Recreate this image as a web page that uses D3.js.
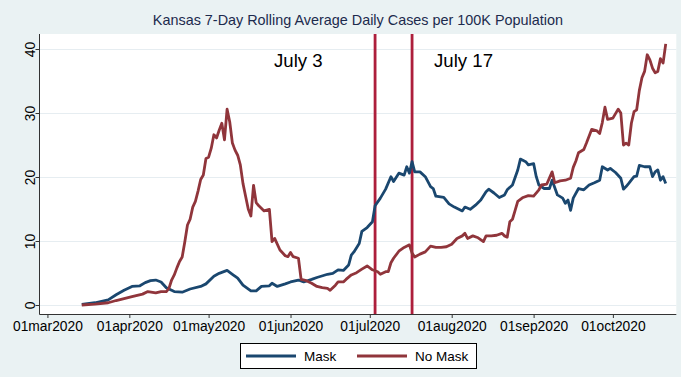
<!DOCTYPE html>
<html>
<head>
<meta charset="utf-8">
<script src="https://cdn.jsdelivr.net/npm/d3@7"></script>
<style>
  body { margin: 0; background: #eaf2f3; }
  svg { display: block; font-family: "Liberation Sans", Arial, sans-serif; }
</style>
</head>
<body>
<div id="chart"></div>
<script>
// 7-day rolling average daily cases per 100K
const maskDates = [
  "2020-03-14","2020-03-19","2020-03-24","2020-03-27","2020-03-30","2020-04-02","2020-04-05","2020-04-07",
  "2020-04-09","2020-04-11","2020-04-13","2020-04-15","2020-04-17","2020-04-18","2020-04-21","2020-04-24",
  "2020-04-28","2020-04-30","2020-05-03","2020-05-05","2020-05-08","2020-05-10","2020-05-12","2020-05-14",
  "2020-05-17","2020-05-19","2020-05-21","2020-05-24","2020-05-25","2020-05-27","2020-05-30","2020-06-01",
  "2020-06-04","2020-06-06","2020-06-09","2020-06-11","2020-06-15","2020-06-17","2020-06-19","2020-06-21",
  "2020-06-23","2020-06-24","2020-06-25","2020-06-27","2020-06-28","2020-06-30","2020-07-02","2020-07-03",
  "2020-07-05","2020-07-07","2020-07-09","2020-07-10","2020-07-12","2020-07-14","2020-07-15","2020-07-16",
  "2020-07-17","2020-07-18","2020-07-20","2020-07-22","2020-07-24","2020-07-25","2020-07-26","2020-07-29",
  "2020-07-31","2020-08-02","2020-08-05","2020-08-06","2020-08-08","2020-08-10","2020-08-12","2020-08-14",
  "2020-08-15","2020-08-17","2020-08-19","2020-08-21","2020-08-22","2020-08-24","2020-08-26","2020-08-27",
  "2020-08-29","2020-08-30","2020-09-01","2020-09-02","2020-09-03","2020-09-05","2020-09-07","2020-09-08",
  "2020-09-10","2020-09-12","2020-09-13","2020-09-14","2020-09-15","2020-09-16","2020-09-18","2020-09-20",
  "2020-09-22","2020-09-24","2020-09-26","2020-09-27","2020-09-29","2020-09-30","2020-10-02","2020-10-04",
  "2020-10-05","2020-10-06","2020-10-07","2020-10-09","2020-10-10","2020-10-11","2020-10-13","2020-10-15",
  "2020-10-16","2020-10-17","2020-10-18","2020-10-19","2020-10-20","2020-10-21"
];
const maskCases = [
  0.1, 0.35, 0.8, 1.6, 2.3, 2.9, 3.0, 3.5,
  3.8, 3.9, 3.6, 2.7, 2.3, 2.1, 2.0, 2.5,
  2.9, 3.3, 4.5, 4.95, 5.4, 4.8, 4.2, 3.1,
  2.2, 2.2, 2.9, 3.0, 3.4, 2.9, 3.3, 3.6,
  3.9, 3.6, 4.0, 4.3, 4.8, 4.95, 5.5, 5.4,
  6.25, 7.8, 8.3, 9.6, 11.5, 12.1, 13.0, 15.5,
  16.7, 18.1, 20.05, 19.3, 20.6, 20.3, 21.6, 20.6,
  22.4, 20.8, 20.8, 20.05, 18.5, 18.2, 17.0, 16.8,
  15.8, 15.3, 14.7, 15.3, 14.95, 15.6, 16.4, 17.7,
  18.1, 17.5, 16.8, 17.2, 18.0, 18.75, 21.1, 22.8,
  22.4, 21.9, 22.1, 20.05, 18.75, 18.2, 18.2, 19.5,
  17.2, 16.7, 15.9, 16.4, 14.8, 16.7, 18.2, 18.0,
  18.75, 19.1, 19.5, 21.6, 21.1, 21.35, 20.7, 19.8,
  18.1, 18.5, 19.0, 20.05, 20.15, 21.8, 21.6, 21.6,
  20.05, 20.8, 21.1, 19.5, 20.05, 19.0
];

const noMaskDates = [
  "2020-03-14","2020-03-19","2020-03-24","2020-03-27","2020-03-30","2020-04-02","2020-04-06","2020-04-08",
  "2020-04-11","2020-04-13","2020-04-15","2020-04-16","2020-04-17","2020-04-18","2020-04-19","2020-04-20",
  "2020-04-21","2020-04-22","2020-04-23","2020-04-24","2020-04-25","2020-04-26","2020-04-27","2020-04-28",
  "2020-04-29","2020-04-30","2020-05-01","2020-05-02","2020-05-03","2020-05-04","2020-05-05","2020-05-06",
  "2020-05-07","2020-05-08","2020-05-09","2020-05-10","2020-05-11","2020-05-12","2020-05-13","2020-05-14",
  "2020-05-15","2020-05-16","2020-05-17","2020-05-18","2020-05-19","2020-05-20","2020-05-22","2020-05-24",
  "2020-05-25","2020-05-26","2020-05-28","2020-05-30","2020-05-31","2020-06-01","2020-06-02","2020-06-04",
  "2020-06-05","2020-06-07","2020-06-09","2020-06-11","2020-06-13","2020-06-15","2020-06-16","2020-06-18",
  "2020-06-19","2020-06-21","2020-06-22","2020-06-24","2020-06-26","2020-06-28","2020-06-30","2020-07-02",
  "2020-07-04","2020-07-05","2020-07-07","2020-07-08","2020-07-09","2020-07-10","2020-07-12","2020-07-14",
  "2020-07-16","2020-07-17","2020-07-18","2020-07-20","2020-07-22","2020-07-24","2020-07-26","2020-07-28",
  "2020-07-30","2020-08-01","2020-08-03","2020-08-05","2020-08-06","2020-08-07","2020-08-09","2020-08-11",
  "2020-08-13","2020-08-14","2020-08-16","2020-08-18","2020-08-20","2020-08-21","2020-08-22","2020-08-23",
  "2020-08-24","2020-08-25","2020-08-26","2020-08-28","2020-08-30","2020-09-01","2020-09-03","2020-09-04",
  "2020-09-06","2020-09-08","2020-09-09","2020-09-11","2020-09-13","2020-09-15","2020-09-16","2020-09-17",
  "2020-09-18","2020-09-20","2020-09-21","2020-09-23","2020-09-25","2020-09-26","2020-09-27","2020-09-28",
  "2020-09-29","2020-10-01","2020-10-03","2020-10-04","2020-10-05","2020-10-06","2020-10-07","2020-10-08",
  "2020-10-09","2020-10-10","2020-10-11","2020-10-12","2020-10-13","2020-10-14","2020-10-15","2020-10-16",
  "2020-10-17","2020-10-18","2020-10-19","2020-10-20","2020-10-21"
];
const noMaskCases = [
  0.0, 0.15, 0.35, 0.7, 1.0, 1.3, 1.7, 2.1,
  1.9, 2.1, 2.1, 2.6, 3.9, 4.7, 5.8, 6.8,
  7.5, 9.9, 12.5, 13.4, 15.3, 16.2, 17.8, 19.6,
  20.3, 22.9, 23.1, 24.5, 26.6, 26.1, 27.3, 28.4,
  25.8, 30.6, 28.6, 25.3, 24.2, 23.4, 21.9, 19.0,
  17.0, 15.0, 13.9, 18.7, 16.0, 15.5, 14.7, 14.95,
  9.9, 10.4, 8.6, 7.7, 7.55, 8.2, 7.55, 7.3,
  4.0, 3.8, 3.4, 2.9, 2.7, 2.6, 2.3, 3.1,
  3.6, 3.6, 4.0, 4.7, 5.05, 5.6, 6.1, 5.5,
  5.2, 4.8, 5.2, 5.2, 6.6, 7.3, 8.4, 9.0,
  9.4, 8.1, 7.5, 7.95, 8.3, 9.2, 9.0, 9.0,
  9.1, 9.5, 10.4, 10.8, 11.2, 10.4, 10.8, 10.5,
  9.9, 10.8, 10.8, 10.9, 11.2, 10.8, 10.6, 13.0,
  13.4, 14.8, 16.2, 16.8, 17.1, 17.0, 18.0, 18.75,
  18.9, 20.8, 19.1, 19.4, 19.5, 19.8, 21.5, 22.5,
  23.8, 24.3, 25.3, 27.45, 27.2, 26.8, 28.5, 30.9,
  29.0, 29.2, 30.6, 30.0, 25.0, 25.3, 25.0, 28.4,
  30.2, 30.5, 33.5, 35.5, 36.5, 39.1, 38.3, 37.0,
  36.3, 36.5, 38.5, 37.8, 40.8
];

const seriesNames = ["Mask", "No Mask"];
const xTickDates = ["2020-03-01","2020-04-01","2020-05-01","2020-06-01","2020-07-01","2020-08-01","2020-09-01","2020-10-01"];
const yTicks = [0, 10, 20, 30, 40];
const eventDates = ["2020-07-03", "2020-07-17"];
const eventLabels = ["July 3", "July 17"];

const width = 681, height = 377;
const plot = { left: 39.5, right: 676.3, top: 34, bottom: 314 };
const colors = { "Mask": "#1a476f", "No Mask": "#90353b" };
const eventColor = "#ad1f3c";

const parse = d3.utcParse("%Y-%m-%d");
const series = [
  { name: "Mask", values: maskDates.map((d, i) => ({ date: parse(d), v: maskCases[i] })) },
  { name: "No Mask", values: noMaskDates.map((d, i) => ({ date: parse(d), v: noMaskCases[i] })) }
];

const svg = d3.select('#chart').append('svg')
  .attr('width', width)
  .attr('height', height);

svg.append('rect')
  .attr('width', width).attr('height', height)
  .attr('fill', '#eaf2f3');

svg.append('rect')
  .attr('x', plot.left).attr('y', plot.top)
  .attr('width', plot.right - plot.left).attr('height', plot.bottom - plot.top)
  .attr('fill', '#ffffff');

const x = d3.scaleUtc()
  .domain([parse("2020-02-27"), parse("2020-10-25")])
  .range([plot.left, plot.right]);

const y = d3.scaleLinear()
  .domain([0, 40])
  .range([305, 49]);

// gridlines
svg.append('g')
  .selectAll('line')
  .data(yTicks)
  .enter()
  .append('line')
  .attr('x1', plot.left).attr('x2', plot.right)
  .attr('y1', d => Math.round(y(d)) + 0.5).attr('y2', d => Math.round(y(d)) + 0.5)
  .attr('stroke', '#e6edf1')
  .attr('stroke-width', 1);

// event lines
svg.append('g')
  .selectAll('line')
  .data(eventDates)
  .enter()
  .append('line')
  .attr('x1', d => x(parse(d))).attr('x2', d => x(parse(d)))
  .attr('y1', plot.top).attr('y2', plot.bottom)
  .attr('stroke', eventColor)
  .attr('stroke-width', 2.8);

svg.append('g')
  .selectAll('text')
  .data(eventDates)
  .enter()
  .append('text')
  .attr('x', (d, i) => i === 0 ? x(parse(d)) - 101 : x(parse(d)) + 22)
  .attr('y', 67)
  .style('font-size', '18.6px')
  .attr('fill', '#000')
  .text((d, i) => eventLabels[i]);

const line = d3.line()
  .x(d => x(d.date))
  .y(d => y(d.v));

svg.append('g')
  .selectAll('path')
  .data(series)
  .enter()
  .append('path')
  .attr('fill', 'none')
  .attr('stroke', d => colors[d.name])
  .attr('stroke-width', 2.8)
  .attr('stroke-linejoin', 'round')
  .attr('d', d => line(d.values));

// axes
const fmt = d => d3.utcFormat("%d")(d) + d3.utcFormat("%b")(d).toLowerCase() + d3.utcFormat("%Y")(d);

const xAxis = svg.append('g')
  .attr('transform', `translate(0, ${plot.bottom})`)
  .call(d3.axisBottom(x)
    .tickValues(xTickDates.map(parse))
    .tickFormat(fmt)
    .tickSize(4)
    .tickSizeOuter(0)
    .tickPadding(3));
xAxis.select('.domain').remove();
xAxis.selectAll('line').attr('stroke', '#333');
xAxis.selectAll('text').style('font-size', '13.8px').attr('fill', '#000');

const yAxis = svg.append('g')
  .attr('transform', `translate(${plot.left}, 0)`)
  .call(d3.axisLeft(y)
    .tickValues(yTicks)
    .tickSize(4)
    .tickSizeOuter(0));
yAxis.select('.domain').remove();
yAxis.selectAll('line').attr('stroke', '#333');
yAxis.selectAll('text')
  .attr('transform', 'rotate(-90)')
  .attr('x', 0)
  .attr('y', -4.5)
  .attr('dy', 0)
  .attr('text-anchor', 'middle')
  .style('font-size', '13.8px')
  .attr('fill', '#000');

svg.append('line')
  .attr('x1', plot.left).attr('x2', plot.left)
  .attr('y1', plot.top).attr('y2', plot.bottom + 0.5)
  .attr('stroke', '#333');
svg.append('line')
  .attr('x1', plot.left).attr('x2', plot.right)
  .attr('y1', plot.bottom + 0.5).attr('y2', plot.bottom + 0.5)
  .attr('stroke', '#333');

// title
svg.append('text')
  .attr('x', (plot.left + plot.right) / 2)
  .attr('y', 25)
  .style('text-anchor', 'middle')
  .style('font-size', '14.4px')
  .attr('fill', '#1c2a4d')
  .text('Kansas 7-Day Rolling Average Daily Cases per 100K Population');

// legend
const legend = svg.append('g');
legend.append('rect')
  .attr('x', 240.5).attr('y', 343.5)
  .attr('width', 236).attr('height', 25)
  .attr('fill', '#fff')
  .attr('stroke', '#000');

const items = legend.selectAll('g.item')
  .data(seriesNames)
  .enter()
  .append('g')
  .attr('class', 'item')
  .attr('transform', (d, i) => `translate(${i === 0 ? 246 : 357}, 356)`);

items.append('line')
  .attr('x1', 0).attr('x2', 50)
  .attr('stroke', d => colors[d])
  .attr('stroke-width', 3);

items.append('text')
  .attr('x', 58)
  .attr('y', 5)
  .style('font-size', '13.5px')
  .attr('fill', '#000')
  .text(d => d);
</script>
</body>
</html>
